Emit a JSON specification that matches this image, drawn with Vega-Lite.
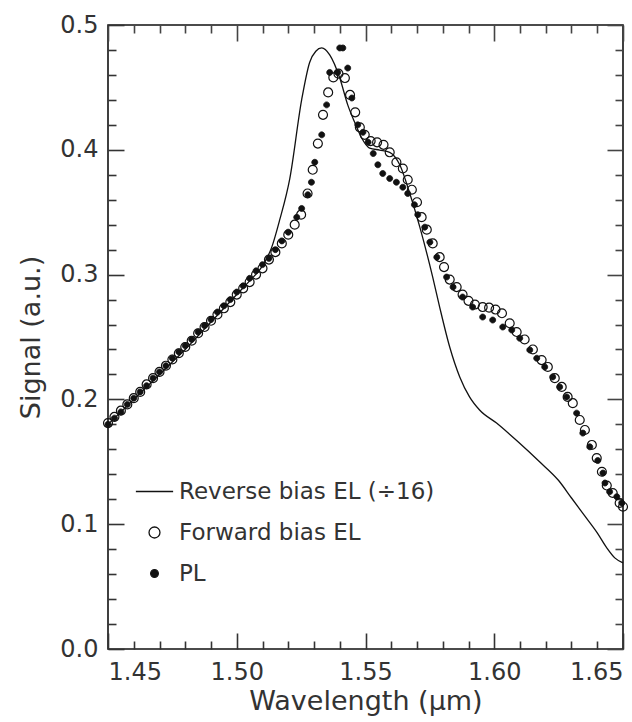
{
  "$schema": "https://vega.github.io/schema/vega-lite/v6.json",
  "width": 515,
  "height": 624,
  "autosize": "none",
  "padding": {"left": 108, "top": 25, "right": 9, "bottom": 73},
  "background": "white",
  "config": {
    "view": {"stroke": "#111", "strokeWidth": 1.6},
    "font": "DejaVu Sans"
  },
  "datasets": {
    "reverse": [
      {"wavelength": 1.450, "signal": 0.180, "series": "Reverse bias EL (÷16)"},
      {"wavelength": 1.455, "signal": 0.190, "series": "Reverse bias EL (÷16)"},
      {"wavelength": 1.460, "signal": 0.200, "series": "Reverse bias EL (÷16)"},
      {"wavelength": 1.465, "signal": 0.210, "series": "Reverse bias EL (÷16)"},
      {"wavelength": 1.470, "signal": 0.220, "series": "Reverse bias EL (÷16)"},
      {"wavelength": 1.475, "signal": 0.230, "series": "Reverse bias EL (÷16)"},
      {"wavelength": 1.480, "signal": 0.240, "series": "Reverse bias EL (÷16)"},
      {"wavelength": 1.485, "signal": 0.251, "series": "Reverse bias EL (÷16)"},
      {"wavelength": 1.490, "signal": 0.262, "series": "Reverse bias EL (÷16)"},
      {"wavelength": 1.495, "signal": 0.273, "series": "Reverse bias EL (÷16)"},
      {"wavelength": 1.500, "signal": 0.284, "series": "Reverse bias EL (÷16)"},
      {"wavelength": 1.505, "signal": 0.295, "series": "Reverse bias EL (÷16)"},
      {"wavelength": 1.510, "signal": 0.307, "series": "Reverse bias EL (÷16)"},
      {"wavelength": 1.5136, "signal": 0.322, "series": "Reverse bias EL (÷16)"},
      {"wavelength": 1.5167, "signal": 0.344, "series": "Reverse bias EL (÷16)"},
      {"wavelength": 1.5206, "signal": 0.377, "series": "Reverse bias EL (÷16)"},
      {"wavelength": 1.5252, "signal": 0.440, "series": "Reverse bias EL (÷16)"},
      {"wavelength": 1.5283, "signal": 0.470, "series": "Reverse bias EL (÷16)"},
      {"wavelength": 1.5307, "signal": 0.479, "series": "Reverse bias EL (÷16)"},
      {"wavelength": 1.5330, "signal": 0.4816, "series": "Reverse bias EL (÷16)"},
      {"wavelength": 1.5361, "signal": 0.476, "series": "Reverse bias EL (÷16)"},
      {"wavelength": 1.5400, "signal": 0.4575, "series": "Reverse bias EL (÷16)"},
      {"wavelength": 1.5431, "signal": 0.436, "series": "Reverse bias EL (÷16)"},
      {"wavelength": 1.5458, "signal": 0.422, "series": "Reverse bias EL (÷16)"},
      {"wavelength": 1.5485, "signal": 0.4095, "series": "Reverse bias EL (÷16)"},
      {"wavelength": 1.5516, "signal": 0.4014, "series": "Reverse bias EL (÷16)"},
      {"wavelength": 1.5555, "signal": 0.3998, "series": "Reverse bias EL (÷16)"},
      {"wavelength": 1.5594, "signal": 0.398, "series": "Reverse bias EL (÷16)"},
      {"wavelength": 1.5633, "signal": 0.388, "series": "Reverse bias EL (÷16)"},
      {"wavelength": 1.5672, "signal": 0.365, "series": "Reverse bias EL (÷16)"},
      {"wavelength": 1.5711, "signal": 0.338, "series": "Reverse bias EL (÷16)"},
      {"wavelength": 1.5761, "signal": 0.298, "series": "Reverse bias EL (÷16)"},
      {"wavelength": 1.5788, "signal": 0.274, "series": "Reverse bias EL (÷16)"},
      {"wavelength": 1.5827, "signal": 0.242, "series": "Reverse bias EL (÷16)"},
      {"wavelength": 1.5866, "signal": 0.218, "series": "Reverse bias EL (÷16)"},
      {"wavelength": 1.5904, "signal": 0.202, "series": "Reverse bias EL (÷16)"},
      {"wavelength": 1.5943, "signal": 0.1915, "series": "Reverse bias EL (÷16)"},
      {"wavelength": 1.6009, "signal": 0.181, "series": "Reverse bias EL (÷16)"},
      {"wavelength": 1.6087, "signal": 0.167, "series": "Reverse bias EL (÷16)"},
      {"wavelength": 1.6176, "signal": 0.150, "series": "Reverse bias EL (÷16)"},
      {"wavelength": 1.6250, "signal": 0.135, "series": "Reverse bias EL (÷16)"},
      {"wavelength": 1.6300, "signal": 0.121, "series": "Reverse bias EL (÷16)"},
      {"wavelength": 1.6350, "signal": 0.107, "series": "Reverse bias EL (÷16)"},
      {"wavelength": 1.6400, "signal": 0.093, "series": "Reverse bias EL (÷16)"},
      {"wavelength": 1.6437, "signal": 0.081, "series": "Reverse bias EL (÷16)"},
      {"wavelength": 1.6468, "signal": 0.073, "series": "Reverse bias EL (÷16)"},
      {"wavelength": 1.6500, "signal": 0.069, "series": "Reverse bias EL (÷16)"}
    ],
    "forward": [
      {"wavelength": 1.4500, "signal": 0.181, "series": "Forward bias EL"},
      {"wavelength": 1.4525, "signal": 0.186, "series": "Forward bias EL"},
      {"wavelength": 1.4550, "signal": 0.191, "series": "Forward bias EL"},
      {"wavelength": 1.4575, "signal": 0.196, "series": "Forward bias EL"},
      {"wavelength": 1.4600, "signal": 0.201, "series": "Forward bias EL"},
      {"wavelength": 1.4625, "signal": 0.206, "series": "Forward bias EL"},
      {"wavelength": 1.4650, "signal": 0.212, "series": "Forward bias EL"},
      {"wavelength": 1.4675, "signal": 0.217, "series": "Forward bias EL"},
      {"wavelength": 1.4700, "signal": 0.222, "series": "Forward bias EL"},
      {"wavelength": 1.4725, "signal": 0.227, "series": "Forward bias EL"},
      {"wavelength": 1.4750, "signal": 0.232, "series": "Forward bias EL"},
      {"wavelength": 1.4775, "signal": 0.237, "series": "Forward bias EL"},
      {"wavelength": 1.4800, "signal": 0.242, "series": "Forward bias EL"},
      {"wavelength": 1.4825, "signal": 0.247, "series": "Forward bias EL"},
      {"wavelength": 1.4850, "signal": 0.253, "series": "Forward bias EL"},
      {"wavelength": 1.4875, "signal": 0.258, "series": "Forward bias EL"},
      {"wavelength": 1.4900, "signal": 0.263, "series": "Forward bias EL"},
      {"wavelength": 1.4925, "signal": 0.268, "series": "Forward bias EL"},
      {"wavelength": 1.4950, "signal": 0.273, "series": "Forward bias EL"},
      {"wavelength": 1.4975, "signal": 0.278, "series": "Forward bias EL"},
      {"wavelength": 1.5000, "signal": 0.284, "series": "Forward bias EL"},
      {"wavelength": 1.5025, "signal": 0.289, "series": "Forward bias EL"},
      {"wavelength": 1.5050, "signal": 0.294, "series": "Forward bias EL"},
      {"wavelength": 1.5075, "signal": 0.300, "series": "Forward bias EL"},
      {"wavelength": 1.5100, "signal": 0.305, "series": "Forward bias EL"},
      {"wavelength": 1.5125, "signal": 0.312, "series": "Forward bias EL"},
      {"wavelength": 1.5150, "signal": 0.318, "series": "Forward bias EL"},
      {"wavelength": 1.5175, "signal": 0.325, "series": "Forward bias EL"},
      {"wavelength": 1.5200, "signal": 0.332, "series": "Forward bias EL"},
      {"wavelength": 1.5225, "signal": 0.340, "series": "Forward bias EL"},
      {"wavelength": 1.5250, "signal": 0.348, "series": "Forward bias EL"},
      {"wavelength": 1.5275, "signal": 0.365, "series": "Forward bias EL"},
      {"wavelength": 1.5295, "signal": 0.384, "series": "Forward bias EL"},
      {"wavelength": 1.5315, "signal": 0.405, "series": "Forward bias EL"},
      {"wavelength": 1.5335, "signal": 0.428, "series": "Forward bias EL"},
      {"wavelength": 1.5355, "signal": 0.446, "series": "Forward bias EL"},
      {"wavelength": 1.5375, "signal": 0.458, "series": "Forward bias EL"},
      {"wavelength": 1.5395, "signal": 0.461, "series": "Forward bias EL"},
      {"wavelength": 1.5420, "signal": 0.4575, "series": "Forward bias EL"},
      {"wavelength": 1.5440, "signal": 0.444, "series": "Forward bias EL"},
      {"wavelength": 1.5460, "signal": 0.430, "series": "Forward bias EL"},
      {"wavelength": 1.5478, "signal": 0.418, "series": "Forward bias EL"},
      {"wavelength": 1.5497, "signal": 0.412, "series": "Forward bias EL"},
      {"wavelength": 1.5520, "signal": 0.407, "series": "Forward bias EL"},
      {"wavelength": 1.5545, "signal": 0.406, "series": "Forward bias EL"},
      {"wavelength": 1.5570, "signal": 0.404, "series": "Forward bias EL"},
      {"wavelength": 1.5594, "signal": 0.398, "series": "Forward bias EL"},
      {"wavelength": 1.5620, "signal": 0.390, "series": "Forward bias EL"},
      {"wavelength": 1.5645, "signal": 0.385, "series": "Forward bias EL"},
      {"wavelength": 1.5664, "signal": 0.376, "series": "Forward bias EL"},
      {"wavelength": 1.5680, "signal": 0.368, "series": "Forward bias EL"},
      {"wavelength": 1.5700, "signal": 0.358, "series": "Forward bias EL"},
      {"wavelength": 1.5718, "signal": 0.346, "series": "Forward bias EL"},
      {"wavelength": 1.5738, "signal": 0.336, "series": "Forward bias EL"},
      {"wavelength": 1.5761, "signal": 0.325, "series": "Forward bias EL"},
      {"wavelength": 1.5788, "signal": 0.314, "series": "Forward bias EL"},
      {"wavelength": 1.5805, "signal": 0.306, "series": "Forward bias EL"},
      {"wavelength": 1.5827, "signal": 0.296, "series": "Forward bias EL"},
      {"wavelength": 1.5854, "signal": 0.290, "series": "Forward bias EL"},
      {"wavelength": 1.5877, "signal": 0.284, "series": "Forward bias EL"},
      {"wavelength": 1.5900, "signal": 0.279, "series": "Forward bias EL"},
      {"wavelength": 1.5925, "signal": 0.276, "series": "Forward bias EL"},
      {"wavelength": 1.5955, "signal": 0.274, "series": "Forward bias EL"},
      {"wavelength": 1.5980, "signal": 0.2735, "series": "Forward bias EL"},
      {"wavelength": 1.6005, "signal": 0.272, "series": "Forward bias EL"},
      {"wavelength": 1.6030, "signal": 0.269, "series": "Forward bias EL"},
      {"wavelength": 1.6060, "signal": 0.261, "series": "Forward bias EL"},
      {"wavelength": 1.6087, "signal": 0.254, "series": "Forward bias EL"},
      {"wavelength": 1.6118, "signal": 0.248, "series": "Forward bias EL"},
      {"wavelength": 1.6150, "signal": 0.240, "series": "Forward bias EL"},
      {"wavelength": 1.6184, "signal": 0.2315, "series": "Forward bias EL"},
      {"wavelength": 1.6208, "signal": 0.226, "series": "Forward bias EL"},
      {"wavelength": 1.6235, "signal": 0.217, "series": "Forward bias EL"},
      {"wavelength": 1.6262, "signal": 0.210, "series": "Forward bias EL"},
      {"wavelength": 1.6285, "signal": 0.202, "series": "Forward bias EL"},
      {"wavelength": 1.6305, "signal": 0.197, "series": "Forward bias EL"},
      {"wavelength": 1.6332, "signal": 0.1835, "series": "Forward bias EL"},
      {"wavelength": 1.6352, "signal": 0.1755, "series": "Forward bias EL"},
      {"wavelength": 1.6379, "signal": 0.1635, "series": "Forward bias EL"},
      {"wavelength": 1.6398, "signal": 0.153, "series": "Forward bias EL"},
      {"wavelength": 1.6418, "signal": 0.142, "series": "Forward bias EL"},
      {"wavelength": 1.6437, "signal": 0.131, "series": "Forward bias EL"},
      {"wavelength": 1.6460, "signal": 0.125, "series": "Forward bias EL"},
      {"wavelength": 1.6487, "signal": 0.117, "series": "Forward bias EL"},
      {"wavelength": 1.6500, "signal": 0.114, "series": "Forward bias EL"}
    ],
    "pl": [
      {"wavelength": 1.4500, "signal": 0.180, "series": "PL"},
      {"wavelength": 1.4525, "signal": 0.185, "series": "PL"},
      {"wavelength": 1.4550, "signal": 0.190, "series": "PL"},
      {"wavelength": 1.4575, "signal": 0.196, "series": "PL"},
      {"wavelength": 1.4600, "signal": 0.201, "series": "PL"},
      {"wavelength": 1.4625, "signal": 0.206, "series": "PL"},
      {"wavelength": 1.4650, "signal": 0.211, "series": "PL"},
      {"wavelength": 1.4675, "signal": 0.217, "series": "PL"},
      {"wavelength": 1.4700, "signal": 0.222, "series": "PL"},
      {"wavelength": 1.4725, "signal": 0.227, "series": "PL"},
      {"wavelength": 1.4750, "signal": 0.233, "series": "PL"},
      {"wavelength": 1.4775, "signal": 0.238, "series": "PL"},
      {"wavelength": 1.4800, "signal": 0.243, "series": "PL"},
      {"wavelength": 1.4825, "signal": 0.248, "series": "PL"},
      {"wavelength": 1.4850, "signal": 0.254, "series": "PL"},
      {"wavelength": 1.4875, "signal": 0.259, "series": "PL"},
      {"wavelength": 1.4900, "signal": 0.264, "series": "PL"},
      {"wavelength": 1.4925, "signal": 0.270, "series": "PL"},
      {"wavelength": 1.4950, "signal": 0.275, "series": "PL"},
      {"wavelength": 1.4975, "signal": 0.280, "series": "PL"},
      {"wavelength": 1.5000, "signal": 0.286, "series": "PL"},
      {"wavelength": 1.5025, "signal": 0.291, "series": "PL"},
      {"wavelength": 1.5050, "signal": 0.297, "series": "PL"},
      {"wavelength": 1.5075, "signal": 0.303, "series": "PL"},
      {"wavelength": 1.5100, "signal": 0.308, "series": "PL"},
      {"wavelength": 1.5125, "signal": 0.313, "series": "PL"},
      {"wavelength": 1.5150, "signal": 0.320, "series": "PL"},
      {"wavelength": 1.5175, "signal": 0.327, "series": "PL"},
      {"wavelength": 1.5200, "signal": 0.334, "series": "PL"},
      {"wavelength": 1.5233, "signal": 0.346, "series": "PL"},
      {"wavelength": 1.5252, "signal": 0.353, "series": "PL"},
      {"wavelength": 1.5276, "signal": 0.364, "series": "PL"},
      {"wavelength": 1.5290, "signal": 0.374, "series": "PL"},
      {"wavelength": 1.5303, "signal": 0.390, "series": "PL"},
      {"wavelength": 1.5330, "signal": 0.412, "series": "PL"},
      {"wavelength": 1.5349, "signal": 0.436, "series": "PL"},
      {"wavelength": 1.5361, "signal": 0.462, "series": "PL"},
      {"wavelength": 1.5392, "signal": 0.462, "series": "PL"},
      {"wavelength": 1.5400, "signal": 0.4816, "series": "PL"},
      {"wavelength": 1.5412, "signal": 0.4816, "series": "PL"},
      {"wavelength": 1.5431, "signal": 0.4655, "series": "PL"},
      {"wavelength": 1.5447, "signal": 0.4415, "series": "PL"},
      {"wavelength": 1.5470, "signal": 0.420, "series": "PL"},
      {"wavelength": 1.5490, "signal": 0.414, "series": "PL"},
      {"wavelength": 1.5510, "signal": 0.406, "series": "PL"},
      {"wavelength": 1.5530, "signal": 0.397, "series": "PL"},
      {"wavelength": 1.5548, "signal": 0.388, "series": "PL"},
      {"wavelength": 1.5567, "signal": 0.381, "series": "PL"},
      {"wavelength": 1.5594, "signal": 0.377, "series": "PL"},
      {"wavelength": 1.5620, "signal": 0.374, "series": "PL"},
      {"wavelength": 1.5645, "signal": 0.370, "series": "PL"},
      {"wavelength": 1.5664, "signal": 0.365, "series": "PL"},
      {"wavelength": 1.5690, "signal": 0.356, "series": "PL"},
      {"wavelength": 1.5703, "signal": 0.348, "series": "PL"},
      {"wavelength": 1.5730, "signal": 0.338, "series": "PL"},
      {"wavelength": 1.5750, "signal": 0.326, "series": "PL"},
      {"wavelength": 1.5777, "signal": 0.314, "series": "PL"},
      {"wavelength": 1.5815, "signal": 0.298, "series": "PL"},
      {"wavelength": 1.5840, "signal": 0.290, "series": "PL"},
      {"wavelength": 1.5877, "signal": 0.282, "series": "PL"},
      {"wavelength": 1.5916, "signal": 0.274, "series": "PL"},
      {"wavelength": 1.5955, "signal": 0.266, "series": "PL"},
      {"wavelength": 1.5994, "signal": 0.2636, "series": "PL"},
      {"wavelength": 1.6033, "signal": 0.258, "series": "PL"},
      {"wavelength": 1.6068, "signal": 0.2556, "series": "PL"},
      {"wavelength": 1.6099, "signal": 0.249, "series": "PL"},
      {"wavelength": 1.6138, "signal": 0.2396, "series": "PL"},
      {"wavelength": 1.6165, "signal": 0.233, "series": "PL"},
      {"wavelength": 1.6196, "signal": 0.226, "series": "PL"},
      {"wavelength": 1.6227, "signal": 0.218, "series": "PL"},
      {"wavelength": 1.6254, "signal": 0.210, "series": "PL"},
      {"wavelength": 1.6281, "signal": 0.202, "series": "PL"},
      {"wavelength": 1.6320, "signal": 0.189, "series": "PL"},
      {"wavelength": 1.6344, "signal": 0.173, "series": "PL"},
      {"wavelength": 1.6371, "signal": 0.162, "series": "PL"},
      {"wavelength": 1.6402, "signal": 0.151, "series": "PL"},
      {"wavelength": 1.6422, "signal": 0.141, "series": "PL"},
      {"wavelength": 1.6430, "signal": 0.133, "series": "PL"},
      {"wavelength": 1.6448, "signal": 0.126, "series": "PL"},
      {"wavelength": 1.6476, "signal": 0.122, "series": "PL"},
      {"wavelength": 1.6495, "signal": 0.117, "series": "PL"}
    ]
  },
  "resolve": {"axis": {"x": "independent", "y": "independent"}},
  "layer": [
    {
      "data": {"name": "reverse"},
      "mark": {"type": "line", "color": "#111", "strokeWidth": 1.3, "interpolate": "monotone"},
      "encoding": {
        "x": {
          "field": "wavelength", "type": "quantitative",
          "scale": {"domain": [1.45, 1.65], "nice": false, "zero": false},
          "axis": {
            "orient": "bottom", "values": [1.45, 1.5, 1.55, 1.6, 1.65], "format": ".2f",
            "ticks": false, "domain": false, "grid": false,
            "labelFontSize": 24, "labelPadding": 11, "labelFlush": true, "labelColor": "#333",
            "labelFont": "DejaVu Sans",
            "title": "Wavelength (μm)", "titleFontSize": 27, "titleFontWeight": "normal",
            "titleColor": "#333", "titleFont": "DejaVu Sans", "titlePadding": 4
          }
        },
        "y": {
          "field": "signal", "type": "quantitative",
          "scale": {"domain": [0, 0.5], "nice": false},
          "axis": {
            "orient": "left", "values": [0, 0.1, 0.2, 0.3, 0.4, 0.5], "format": ".1f",
            "ticks": false, "domain": false, "grid": false,
            "labelFontSize": 24, "labelPadding": 10, "labelFlush": false, "labelColor": "#333",
            "labelFont": "DejaVu Sans",
            "title": "Signal (a.u.)", "titleFontSize": 27, "titleFontWeight": "normal",
            "titleColor": "#333", "titleFont": "DejaVu Sans", "titlePadding": 14
          }
        }
      }
    },
    {
      "data": {"name": "forward"},
      "mark": {"type": "point", "filled": false, "opacity": 1, "size": 80, "strokeWidth": 1.2},
      "encoding": {
        "x": {
          "field": "wavelength", "type": "quantitative",
          "axis": {
            "orient": "bottom", "labels": false, "domain": false, "grid": false, "title": null,
            "values": [1.45, 1.46, 1.47, 1.48, 1.49, 1.5, 1.51, 1.52, 1.53, 1.54, 1.55, 1.56, 1.57, 1.58, 1.59, 1.6, 1.61, 1.62, 1.63, 1.64, 1.65],
            "tickSize": {"condition": {"test": "abs(datum.value*20 - round(datum.value*20)) < 0.01", "value": -16}, "value": -8},
            "tickColor": "#333", "tickWidth": 1.6
          }
        },
        "y": {
          "field": "signal", "type": "quantitative",
          "axis": {
            "orient": "left", "labels": false, "domain": false, "grid": false, "title": null,
            "values": [0, 0.02, 0.04, 0.06, 0.08, 0.1, 0.12, 0.14, 0.16, 0.18, 0.2, 0.22, 0.24, 0.26, 0.28, 0.3, 0.32, 0.34, 0.36, 0.38, 0.4, 0.42, 0.44, 0.46, 0.48, 0.5],
            "tickSize": {"condition": {"test": "abs(datum.value*10 - round(datum.value*10)) < 0.01", "value": -16}, "value": -8},
            "tickColor": "#333", "tickWidth": 1.6
          }
        },
        "shape": {
          "field": "series", "type": "nominal",
          "scale": {
            "domain": ["Reverse bias EL (÷16)", "Forward bias EL", "PL"],
            "range": ["M-3.4,0H3.4", "circle", "M-0.7,0A0.7,0.7 0 1,0 0.7,0A0.7,0.7 0 1,0 -0.7,0Z"]
          },
          "legend": {
            "orient": "none", "legendX": 35, "legendY": 455, "title": null,
            "symbolSize": 120, "symbolStrokeWidth": 1.3, "symbolOpacity": 1,
            "labelFontSize": 23, "labelColor": "#333", "labelFont": "DejaVu Sans", "labelLimit": 500,
            "labelOffset": 13, "rowPadding": 17, "padding": 0
          }
        },
        "fill": {
          "field": "series", "type": "nominal",
          "scale": {
            "domain": ["Reverse bias EL (÷16)", "Forward bias EL", "PL"],
            "range": ["transparent", "transparent", "#111"]
          },
          "legend": {
            "orient": "none", "legendX": 35, "legendY": 455, "title": null,
            "symbolSize": 120, "symbolStrokeWidth": 1.3, "symbolOpacity": 1,
            "labelFontSize": 23, "labelColor": "#333", "labelFont": "DejaVu Sans", "labelLimit": 500,
            "labelOffset": 13, "rowPadding": 17, "padding": 0
          }
        },
        "stroke": {
          "field": "series", "type": "nominal",
          "scale": {
            "domain": ["Reverse bias EL (÷16)", "Forward bias EL", "PL"],
            "range": ["#111", "#111", "#111"]
          },
          "legend": {
            "orient": "none", "legendX": 35, "legendY": 455, "title": null,
            "symbolSize": 120, "symbolStrokeWidth": 1.3, "symbolOpacity": 1,
            "labelFontSize": 23, "labelColor": "#333", "labelFont": "DejaVu Sans", "labelLimit": 500,
            "labelOffset": 13, "rowPadding": 17, "padding": 0
          }
        }
      }
    },
    {
      "data": {"name": "pl"},
      "mark": {"type": "point", "filled": false, "opacity": 1, "size": 73, "strokeWidth": 0.8},
      "encoding": {
        "x": {
          "field": "wavelength", "type": "quantitative",
          "axis": {
            "orient": "top", "labels": false, "domain": false, "grid": false, "title": null,
            "values": [1.45, 1.46, 1.47, 1.48, 1.49, 1.5, 1.51, 1.52, 1.53, 1.54, 1.55, 1.56, 1.57, 1.58, 1.59, 1.6, 1.61, 1.62, 1.63, 1.64, 1.65],
            "tickSize": {"condition": {"test": "abs(datum.value*20 - round(datum.value*20)) < 0.01", "value": -16}, "value": -8},
            "tickColor": "#444", "tickWidth": 1.6
          }
        },
        "y": {
          "field": "signal", "type": "quantitative",
          "axis": {
            "orient": "right", "labels": false, "domain": false, "grid": false, "title": null,
            "values": [0, 0.02, 0.04, 0.06, 0.08, 0.1, 0.12, 0.14, 0.16, 0.18, 0.2, 0.22, 0.24, 0.26, 0.28, 0.3, 0.32, 0.34, 0.36, 0.38, 0.4, 0.42, 0.44, 0.46, 0.48, 0.5],
            "tickSize": {"condition": {"test": "abs(datum.value*10 - round(datum.value*10)) < 0.01", "value": -16}, "value": -8},
            "tickColor": "#444", "tickWidth": 1.6
          }
        },
        "shape": {"field": "series", "type": "nominal"},
        "fill": {"field": "series", "type": "nominal"},
        "stroke": {"field": "series", "type": "nominal"}
      }
    }
  ]
}
